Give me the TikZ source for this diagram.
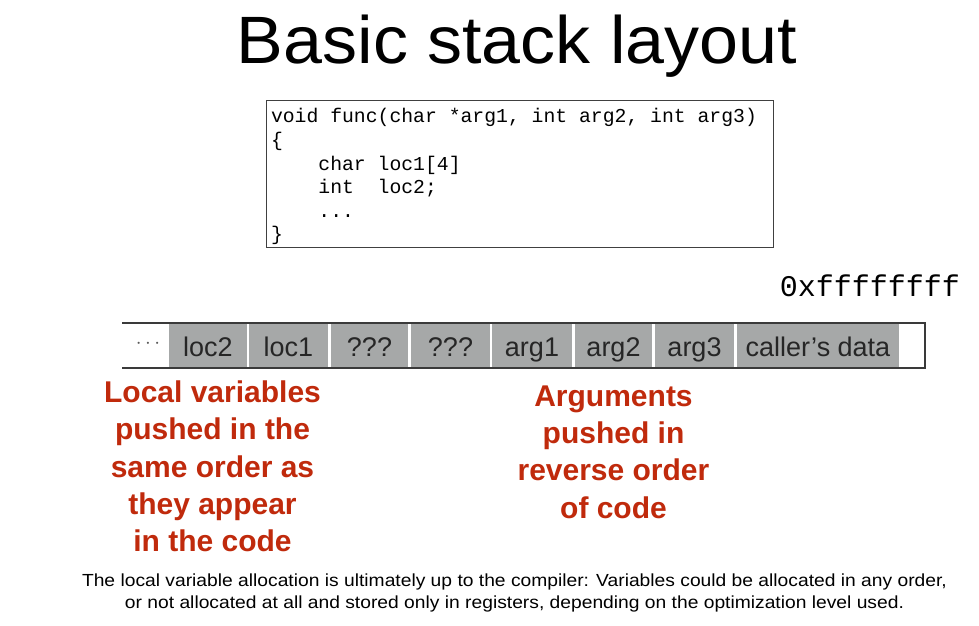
\documentclass[tikz,border=0pt]{standalone}
\usepackage{fontspec}
\setmainfont{Liberation Sans}
\newfontfamily\codefont{Liberation Mono}
\definecolor{cellgray}{HTML}{A6A8A8}
\definecolor{noteRed}{HTML}{C02A0C}
\definecolor{frameline}{HTML}{3A3A3A}
% one fixed-width blank in the code listing
\newcommand\codesp{\phantom{x}}
\begin{document}
\begin{tikzpicture}[x=1pt,y=-1pt,
  cell/.style={fill=cellgray, draw=none, minimum height=43pt, inner sep=0pt,
    text height=24pt, text depth=3pt,
    font=\fontsize{27}{27}\selectfont, text=black!85},
  note/.style={text=noteRed, align=center, inner sep=0pt, anchor=north,
    font=\bfseries\fontsize{30}{37.3}\selectfont},
  codebox/.style={draw=black!75, line width=1pt, minimum width=507pt,
    minimum height=147pt, inner xsep=5pt, inner ysep=0pt, text width=497pt,
    align=left, font=\codefont\fontsize{19.75}{23.6}\selectfont},
  frame/.style={draw=frameline, line width=1.6pt}]
\useasboundingbox (0,0) rectangle (979,625);
\fill[white] (0,0) rectangle (979,625);

% title
\node[anchor=base, inner sep=0pt, font=\fontsize{67}{67}\selectfont] (title) at (517,63) {\scalebox{1.045}[1]{Basic stack layout}};

% source of the function
\node[codebox] (code) at (519.5,173.5) {\rule{0pt}{21pt}void\codesp func(char\codesp *arg1,\codesp int\codesp arg2,\codesp int\codesp arg3)\\
\{\\
\codesp\codesp\codesp\codesp char\codesp loc1[4]\\
\codesp\codesp\codesp\codesp int\codesp\codesp loc2;\\
\codesp\codesp\codesp\codesp ...\\
\}};

% highest address
\node[inner sep=0pt, font=\codefont\fontsize{30}{30}\selectfont] (top) at (870,286) {0xffffffff};

% stack cells, lowest address on the left
\node[cell, minimum width=78pt] (loc2) at (208,345.5) {loc2};
\node[cell, minimum width=79pt] (loc1) at (288.5,345.5) {loc1};
\node[cell, minimum width=77pt] (pad1) at (369.5,345.5) {???};
\node[cell, minimum width=79pt] (pad2) at (450.5,345.5) {???};
\node[cell, minimum width=80pt] (arg1) at (532,345.5) {arg1};
\node[cell, minimum width=77pt] (arg2) at (613.5,345.5) {arg2};
\node[cell, minimum width=79pt] (arg3) at (694.5,345.5) {arg3};
\node[cell, minimum width=162pt] (caller) at (818,345.5) {caller’s data};
\node[inner sep=0pt, text=black!65, font=\fontsize{22}{22}\selectfont] (more) at (148,344) {$\cdots$};

% stack outline: open towards lower addresses
\coordinate (tl) at (122,323);
\coordinate (tr) at (925,323);
\coordinate (br) at (925,368);
\coordinate (bl) at (122,368);
\draw[frame] (tl) -- (tr) -- (br) -- (bl);

% notes
\node[note] (locnote) at (212.5,380.5) {Local variables\\pushed in the\\same order as\\they appear\\in the code};
\node[note] (argnote) at (613.5,385.5) {Arguments\\pushed in\\reverse order\\of code};

\node[anchor=north, inner sep=0pt, align=center, font=\fontsize{17.5}{22}\selectfont] (foot) at (514.5,573.2) {\scalebox{1.10}[1]{The local variable allocation is ultimately up to the compiler: Variables could be allocated in any order,}\\\scalebox{1.10}[1]{or not allocated at all and stored only in registers, depending on the optimization level used.}};
\end{tikzpicture}
\end{document}
